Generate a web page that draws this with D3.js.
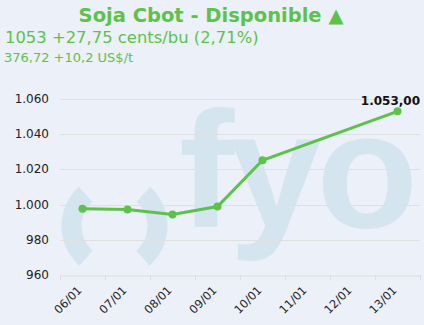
<html>
<head>
<style type="text/css">
  body { margin: 0; background: #ecf0f9; }
  .grid line { stroke: #dfe0e2; stroke-width: 1px; }
  .ylab text { font-family: "DejaVu Sans", Verdana, sans-serif; font-size: 12px; fill: #222; }
  .xlab text { font-family: "DejaVu Sans", Verdana, sans-serif; font-size: 11.5px; fill: #222; }
</style>
</head>
<body>
<svg id="viewport" width="424" height="325"></svg>
<script src="https://cdn.jsdelivr.net/npm/d3@7"></script>
<script>
  // DATA
  var days = ["06/01", "07/01", "08/01", "09/01", "10/01", "11/01", "12/01", "13/01"];
  var prices = [997.7, 997.2, 994.4, 998.9, 1025.2, null, null, 1053.0];
  var yTicks = [960, 980, 1000, 1020, 1040, 1060];
  var title = "Soja Cbot - Disponible \u25B2";
  var line1 = "1053 +27,75 cents/bu (2,71%)";
  var line2 = "376,72 +10,2 US$/t";

  var svg = d3.select("svg"),
    width = +svg.attr("width"),
    height = +svg.attr("height");

  var green = "#5dc24a";
  var plotL = 60, plotR = 420, plotT = 99, plotB = 275;

  svg.append("rect").attr("width", width).attr("height", height).attr("fill", "#ecf0f9");

  var nf = d3.formatLocale({decimal: ",", thousands: ".", grouping: [3], currency: ["", ""]});

  var x = d3.scaleBand().domain(days).range([plotL, plotR]);
  var y = d3.scaleLinear().domain([960, 1060]).range([plotB, plotT]);

  // watermark
  var wm = svg.append("g");
  var arc = d3.arc().innerRadius(33).outerRadius(53);
  wm.append("path")
    .attr("d", arc({startAngle: -2.42, endAngle: -0.74}))
    .attr("transform", "translate(114.5,226)")
    .attr("fill", "#d5e5ef");
  wm.append("path")
    .attr("d", arc({startAngle: 0.74, endAngle: 2.42}))
    .attr("transform", "translate(114.5,226)")
    .attr("fill", "#d5e5ef");
  wm.append("text")
    .attr("x", 179).attr("y", 227)
    .style("font-family", "'Liberation Sans', Arial, sans-serif")
    .style("font-weight", "bold")
    .style("font-size", "166px")
    .style("letter-spacing", "-5px")
    .attr("fill", "#d5e5ef")
    .text("fyo");

  // titles
  svg.append("text")
    .attr("x", 211).attr("y", 22)
    .attr("text-anchor", "middle")
    .style("font-family", "'DejaVu Sans', Verdana, sans-serif")
    .style("font-weight", "bold").style("font-size", "19.5px")
    .attr("fill", green)
    .text(title);
  svg.append("text")
    .attr("x", 5).attr("y", 43)
    .style("font-family", "'DejaVu Sans', Verdana, sans-serif")
    .style("font-size", "16.4px")
    .attr("fill", green)
    .text(line1);
  svg.append("text")
    .attr("x", 4).attr("y", 62)
    .style("font-family", "'DejaVu Sans', Verdana, sans-serif")
    .style("font-size", "13px")
    .attr("fill", green)
    .text(line2);

  // grid
  svg.append("g").attr("class", "grid")
    .selectAll("line")
    .data(yTicks.slice(1))
    .enter().append("line")
    .attr("x1", plotL).attr("x2", plotR)
    .attr("y1", function(d) { return Math.round(y(d)) + 0.5; })
    .attr("y2", function(d) { return Math.round(y(d)) + 0.5; });

  // y axis labels
  svg.append("g").attr("class", "ylab")
    .selectAll("text")
    .data(yTicks)
    .enter().append("text")
    .attr("x", 49)
    .attr("y", function(d) { return y(d) + 4; })
    .attr("text-anchor", "end")
    .text(function(d) { return nf.format(",")(d); });

  // x axis
  var xAxis = d3.axisBottom(x).tickSize(0).tickFormat("");
  var xa = svg.append("g").attr("transform", "translate(0," + (plotB + 0.5) + ")").call(xAxis);
  xa.select(".domain").attr("stroke", "#dcdde0");
  svg.append("g").selectAll("line")
    .data(days.concat(["end"]))
    .enter().append("line")
    .attr("x1", function(d, i) { return plotL + i * x.step() + 0.5; })
    .attr("x2", function(d, i) { return plotL + i * x.step() + 0.5; })
    .attr("y1", plotB).attr("y2", plotB + 5)
    .attr("stroke", "#dcdde0");

  svg.append("g").attr("class", "xlab")
    .selectAll("text")
    .data(days)
    .enter().append("text")
    .attr("text-anchor", "end")
    .attr("transform", function(d) {
      return "translate(" + (x(d) + x.bandwidth() / 2) + "," + (plotB + 16) + ") rotate(-45)";
    })
    .text(function(d) { return d; });

  // series
  var pts = days.map(function(d, i) { return {day: d, v: prices[i]}; })
    .filter(function(d) { return d.v != null; });

  var line = d3.line()
    .x(function(d) { return x(d.day) + x.bandwidth() / 2; })
    .y(function(d) { return y(d.v); });

  svg.append("path")
    .datum(pts)
    .attr("d", line)
    .attr("fill", "none")
    .attr("stroke", green)
    .attr("stroke-width", 3);

  svg.append("g").selectAll("circle")
    .data(pts)
    .enter().append("circle")
    .attr("cx", function(d) { return x(d.day) + x.bandwidth() / 2; })
    .attr("cy", function(d) { return y(d.v); })
    .attr("r", 4)
    .attr("fill", green);

  var last = pts[pts.length - 1];
  svg.append("text")
    .attr("x", 420).attr("y", y(last.v) - 6)
    .attr("text-anchor", "end")
    .style("font-family", "'DejaVu Sans', Verdana, sans-serif")
    .style("font-weight", "bold").style("font-size", "12px")
    .attr("fill", "#111")
    .text(nf.format(",.2f")(last.v));
</script>
</body>
</html>
